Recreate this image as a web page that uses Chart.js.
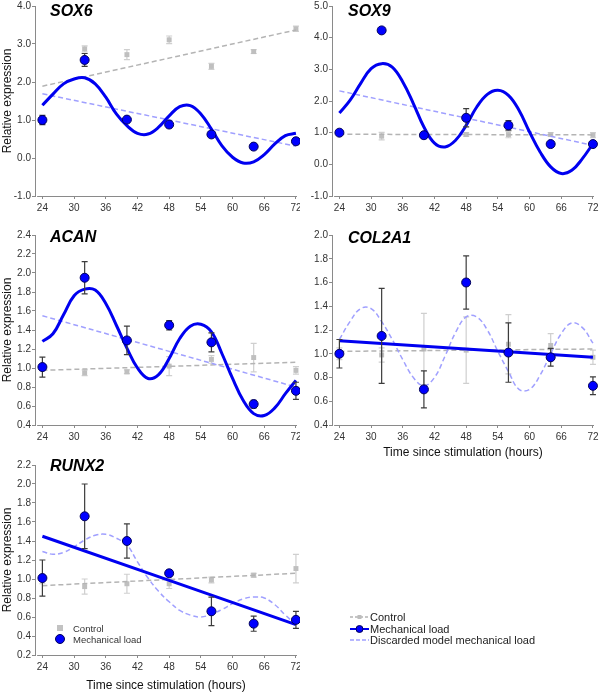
<!DOCTYPE html>
<html>
<head>
<meta charset="utf-8">
<script src="https://cdn.jsdelivr.net/npm/chart.js@4"></script>
<style>
  body { margin: 0; background: #fff; font-family: "Liberation Sans", Arial, sans-serif; }
  #wrap { position: relative; width: 600px; height: 693px; overflow: hidden; }
  canvas { position: absolute; }
  .gene { position: absolute; font: italic bold 16px/16px "Liberation Sans", Arial, sans-serif; color: #000; }
  .lg { position: absolute; color: #333; white-space: nowrap; }
</style>
</head>
<body>
<div id="wrap">
  <canvas id="cSOX6" width="300" height="225" style="left:0;top:0"></canvas>
  <canvas id="cSOX9" width="300" height="225" style="left:300px;top:0"></canvas>
  <canvas id="cACAN" width="300" height="230" style="left:0;top:225px"></canvas>
  <canvas id="cCOL2A1" width="300" height="235" style="left:300px;top:225px"></canvas>
  <canvas id="cRUNX2" width="300" height="238" style="left:0;top:455px"></canvas>

  <div class="gene" style="left:50px;top:3px">SOX6</div>
  <div class="gene" style="left:348px;top:3px">SOX9</div>
  <div class="gene" style="left:50px;top:229px">ACAN</div>
  <div class="gene" style="left:348px;top:230px">COL2A1</div>
  <div class="gene" style="left:50px;top:458px">RUNX2</div>

  <!-- legend inside RUNX2 -->
  <div style="position:absolute;left:57px;top:624.5px;width:6px;height:6px;background:#c2c2c2"></div>
  <div class="lg" style="left:73px;top:622.5px;font-size:9.5px;line-height:11px">Control</div>
  <div style="position:absolute;left:55px;top:633.5px;width:10px;height:10px;box-sizing:border-box;border-radius:50%;background:#0000ff;border:1px solid #00005a"></div>
  <div class="lg" style="left:73px;top:633.5px;font-size:9.5px;line-height:11px">Mechanical load</div>

  <!-- main legend -->
  <svg style="position:absolute;left:350px;top:612px" width="19" height="10">
    <line x1="0" y1="5" x2="19" y2="5" stroke="#b4b4b4" stroke-width="1.5" stroke-dasharray="3,2"/>
    <rect x="7.5" y="3" width="4" height="4" fill="#bdbdbd"/>
  </svg>
  <div class="lg" style="left:370px;top:611px;font-size:11px;line-height:12px;color:#222">Control</div>
  <svg style="position:absolute;left:350px;top:623.5px" width="19" height="10">
    <line x1="0" y1="5" x2="19" y2="5" stroke="#0000f0" stroke-width="2"/>
    <circle cx="9.5" cy="5" r="3.5" fill="#0000ff" stroke="#00005a" stroke-width="1"/>
  </svg>
  <div class="lg" style="left:370px;top:622.5px;font-size:11px;line-height:12px;color:#222">Mechanical load</div>
  <svg style="position:absolute;left:350px;top:635px" width="19" height="10">
    <line x1="0" y1="5" x2="19" y2="5" stroke="#a0a0ff" stroke-width="1.5" stroke-dasharray="4,2"/>
  </svg>
  <div class="lg" style="left:370px;top:634px;font-size:11px;line-height:12px;color:#222">Discarded model mechanical load</div>
</div>

<script>
// sampling times
const times = [24, 32, 40, 48, 56, 64, 72];
const fitTimes = [24, 72];
const curveTimes = [24, 26, 28, 30, 32, 34, 36, 38, 40, 42, 44, 46, 48, 50, 52, 54, 56, 58, 60, 62, 64, 66, 68, 70, 72];
const xTicks = [24, 30, 36, 42, 48, 54, 60, 66, 72];

// SOX6
const sox6Control = [1.00, 2.87, 2.72, 3.11, 2.41, 2.80, 3.40];
const sox6ControlErr = [0.05, 0.08, 0.13, 0.10, 0.08, 0.05, 0.07];
const sox6Load = [1.00, 2.58, 1.01, 0.88, 0.62, 0.30, 0.44];
const sox6LoadErr = [0.12, 0.17, 0.04, 0.03, 0.04, 0.03, 0.04];
const sox6ControlFit = [1.89, 3.37];
const sox6Discarded = [1.69, 0.31];
const sox6Model = [1.39, 1.68, 1.95, 2.08, 2.11, 1.95, 1.60, 1.16, 0.85, 0.65, 0.63, 0.81, 1.11,
                   1.35, 1.38, 1.16, 0.76, 0.32, 0.02, -0.13, -0.10, 0.09, 0.37, 0.59, 0.65];
const sox6Ticks = [-1, 0, 1, 2, 3, 4];

// SOX9
const sox9Control = [1.00, 0.89, 0.95, 0.94, 0.94, 0.94, 0.92];
const sox9ControlErr = [0.05, 0.12, 0.05, 0.06, 0.10, 0.06, 0.08];
const sox9Load = [1.00, 4.23, 0.92, 1.47, 1.23, 0.64, 0.64];
const sox9LoadErr = [0.03, 0.06, 0.04, 0.29, 0.15, 0.03, 0.05];
const sox9ControlFit = [0.95, 0.93];
const sox9Discarded = [2.32, 0.60];
const sox9Model = [1.62, 2.02, 2.55, 3.02, 3.18, 3.07, 2.60, 1.92, 1.18, 0.67, 0.55, 0.76, 1.23,
                   1.81, 2.21, 2.34, 2.18, 1.71, 1.02, 0.39, -0.08, -0.29, -0.19, 0.18, 0.65];
const sox9Ticks = [-1, 0, 1, 2, 3, 4, 5];

// ACAN
const acanControl = [1.00, 0.95, 0.96, 1.02, 1.09, 1.11, 0.975];
const acanControlErr = [0.03, 0.03, 0.02, 0.10, 0.04, 0.15, 0.04];
const acanLoad = [1.01, 1.95, 1.29, 1.45, 1.27, 0.62, 0.76];
const acanLoadErr = [0.105, 0.17, 0.15, 0.05, 0.10, 0.04, 0.09];
const acanControlFit = [0.975, 1.06];
const acanDiscarded = [1.55, 0.80];
const acanModel = [1.28, 1.36, 1.56, 1.76, 1.83, 1.82, 1.68, 1.45, 1.21, 1.00, 0.89, 0.93, 1.10,
                   1.31, 1.44, 1.46, 1.38, 1.15, 0.89, 0.66, 0.52, 0.50, 0.58, 0.73, 0.87];
const acanTicks = [0.4, 0.6, 0.8, 1.0, 1.2, 1.4, 1.6, 1.8, 2.0, 2.2, 2.4];

// COL2A1
const col2a1Control = [1.00, 0.99, 1.04, 1.03, 1.08, 1.07, 0.97];
const col2a1ControlErr = [0.05, 0.06, 0.30, 0.28, 0.25, 0.10, 0.06];
const col2a1Load = [1.00, 1.15, 0.70, 1.60, 1.01, 0.97, 0.73];
const col2a1LoadErr = [0.12, 0.40, 0.155, 0.225, 0.25, 0.075, 0.075];
const col2a1ControlFit = [1.02, 1.04];
const col2a1Model = [1.11, 0.97];
const col2a1Discarded = [1.12, 1.27, 1.38, 1.38, 1.27, 1.12, 0.95, 0.80, 0.73, 0.80, 0.98, 1.18, 1.31,
                         1.31, 1.20, 1.02, 0.85, 0.70, 0.70, 0.82, 1.00, 1.17, 1.26, 1.22, 1.09];
const col2a1Ticks = [0.4, 0.6, 0.8, 1.0, 1.2, 1.4, 1.6, 1.8, 2.0];

// RUNX2
const runx2Control = [1.00, 0.92, 0.95, 0.95, 0.99, 1.04, 1.11];
const runx2ControlErr = [0.05, 0.08, 0.10, 0.05, 0.03, 0.02, 0.15];
const runx2Load = [1.01, 1.66, 1.40, 1.06, 0.66, 0.53, 0.57];
const runx2LoadErr = [0.19, 0.34, 0.18, 0.03, 0.15, 0.08, 0.09];
const runx2ControlFit = [0.93, 1.06];
const runx2Model = [1.45, 0.52];
const runx2Discarded = [1.29, 1.26, 1.28, 1.34, 1.41, 1.46, 1.47, 1.43, 1.36, 1.18, 1.01, 0.87, 0.76,
                        0.67, 0.62, 0.60, 0.63, 0.68, 0.74, 0.79, 0.81, 0.80, 0.73, 0.62, 0.52];
const runx2Ticks = [0.2, 0.4, 0.6, 0.8, 1.0, 1.2, 1.4, 1.6, 1.8, 2.0, 2.2];

const FONT = '"Liberation Sans", Arial, sans-serif';
const BLUE = '#0000f0';
const AXIS = '#8a8a8a';

const pts = (xs, ys) => xs.map((x, i) => ({ x: x, y: ys[i] }));

// error bars drawn just before the points of their dataset
const errorBars = {
  id: 'errorBars',
  beforeDatasetDraw(chart, args) {
    const ds = chart.data.datasets[args.index];
    if (!ds.errorBars) return;
    const ctx = chart.ctx, x = chart.scales.x, y = chart.scales.y;
    ctx.save();
    ctx.strokeStyle = ds.errColor;
    ctx.lineWidth = 1.2;
    ds.data.forEach((d, i) => {
      const e = ds.errorBars[i];
      const px = x.getPixelForValue(d.x);
      const top = y.getPixelForValue(d.y + e), bot = y.getPixelForValue(d.y - e);
      ctx.beginPath();
      ctx.moveTo(px, top); ctx.lineTo(px, bot);
      ctx.moveTo(px - 3, top); ctx.lineTo(px + 3, top);
      ctx.moveTo(px - 3, bot); ctx.lineTo(px + 3, bot);
      ctx.stroke();
    });
    ctx.restore();
  }
};

// x axis line starts a little right of the y axis (detached axes)
const xAxisLine = {
  id: 'xAxisLine',
  beforeDatasetsDraw(chart) {
    const ctx = chart.ctx, x = chart.scales.x, a = chart.chartArea;
    ctx.save();
    ctx.strokeStyle = AXIS;
    ctx.lineWidth = 1;
    ctx.beginPath();
    ctx.moveTo(x.getPixelForValue(23.0), a.bottom + 0.5);
    ctx.lineTo(a.right, a.bottom + 0.5);
    ctx.stroke();
    ctx.restore();
  }
};

function panel(id, p) {
  const datasets = [
    { data: pts(times, p.load), errorBars: p.loadErr, errColor: '#3c3c3c', showLine: false,
      pointRadius: 4.5, pointBackgroundColor: '#0000ff', pointBorderColor: '#00005a', pointBorderWidth: 1, order: 0 },
    { data: pts(p.modelX, p.model), borderColor: BLUE, borderWidth: 3, pointRadius: 0, tension: 0.4, order: 1 },
    { data: pts(p.discX, p.disc), borderColor: '#a0a0ff', borderWidth: 1.5, borderDash: [5, 3],
      pointRadius: 0, tension: 0.4, order: 2 },
    { data: pts(fitTimes, p.controlFit), borderColor: '#b4b4b4', borderWidth: 1.5, borderDash: [5, 3],
      pointRadius: 0, order: 3 },
    { data: pts(times, p.control), errorBars: p.controlErr, errColor: '#cfcfcf', showLine: false,
      pointStyle: 'rect', pointRadius: 3.5, pointBackgroundColor: '#bfbfbf', pointBorderWidth: 0, order: 4 }
  ];
  datasets.forEach(d => { d.clip = false; });

  new Chart(document.getElementById(id), {
    type: 'line',
    data: { datasets: datasets },
    plugins: [errorBars, xAxisLine],
    options: {
      responsive: false,
      animation: false,
      layout: { autoPadding: false, padding: { left: 0, right: p.right, top: p.top, bottom: 0 } },
      plugins: { legend: { display: false }, tooltip: { enabled: false } },
      scales: {
        x: {
          type: 'linear', min: 22.6, max: 72.2,
          afterBuildTicks: s => { s.ticks = xTicks.map(v => ({ value: v })); },
          afterFit: s => { s.height = p.xH; s.paddingLeft = 0; s.paddingRight = 0; },
          ticks: { autoSkip: false, maxRotation: 0, padding: 3, color: '#333', font: { size: 10, family: FONT },
                   callback: v => String(v) },
          grid: { drawOnChartArea: false, tickLength: 3, color: AXIS },
          border: { display: false },
          title: { display: !!p.xTitle, text: 'Time since stimulation (hours)', color: '#111',
                   font: { size: 12, family: FONT }, padding: { top: 0, bottom: 0 } }
        },
        y: {
          type: 'linear', min: p.yTicks[0], max: p.yTicks[p.yTicks.length - 1],
          afterBuildTicks: s => { s.ticks = p.yTicks.map(v => ({ value: v })); },
          afterFit: s => { s.width = p.yW; s.paddingTop = 0; s.paddingBottom = 0; },
          ticks: { padding: 1, color: '#333', font: { size: 10, family: FONT }, callback: v => v.toFixed(1) },
          grid: { drawOnChartArea: false, tickLength: 3, color: AXIS },
          border: { color: AXIS, width: 1 },
          title: { display: !!p.yTitle, text: 'Relative expression', color: '#111',
                   font: { size: 12, family: FONT }, padding: { top: 0, bottom: 0 } }
        }
      }
    }
  });
}

panel('cSOX6', { load: sox6Load, loadErr: sox6LoadErr, control: sox6Control, controlErr: sox6ControlErr,
  controlFit: sox6ControlFit, modelX: curveTimes, model: sox6Model, discX: fitTimes, disc: sox6Discarded,
  yTicks: sox6Ticks, yW: 35, right: 3, top: 6, xH: 29, yTitle: true });
panel('cSOX9', { load: sox9Load, loadErr: sox9LoadErr, control: sox9Control, controlErr: sox9ControlErr,
  controlFit: sox9ControlFit, modelX: curveTimes, model: sox9Model, discX: fitTimes, disc: sox9Discarded,
  yTicks: sox9Ticks, yW: 32, right: 6, top: 6, xH: 29 });
panel('cACAN', { load: acanLoad, loadErr: acanLoadErr, control: acanControl, controlErr: acanControlErr,
  controlFit: acanControlFit, modelX: curveTimes, model: acanModel, discX: fitTimes, disc: acanDiscarded,
  yTicks: acanTicks, yW: 35, right: 3, top: 10, xH: 30, yTitle: true });
panel('cCOL2A1', { load: col2a1Load, loadErr: col2a1LoadErr, control: col2a1Control, controlErr: col2a1ControlErr,
  controlFit: col2a1ControlFit, modelX: fitTimes, model: col2a1Model, discX: curveTimes, disc: col2a1Discarded,
  yTicks: col2a1Ticks, yW: 32, right: 6, top: 10, xH: 35, xTitle: true });
panel('cRUNX2', { load: runx2Load, loadErr: runx2LoadErr, control: runx2Control, controlErr: runx2ControlErr,
  controlFit: runx2ControlFit, modelX: fitTimes, model: runx2Model, discX: curveTimes, disc: runx2Discarded,
  yTicks: runx2Ticks, yW: 35, right: 3, top: 10, xH: 38, yTitle: true, xTitle: true });
</script>
</body>
</html>
